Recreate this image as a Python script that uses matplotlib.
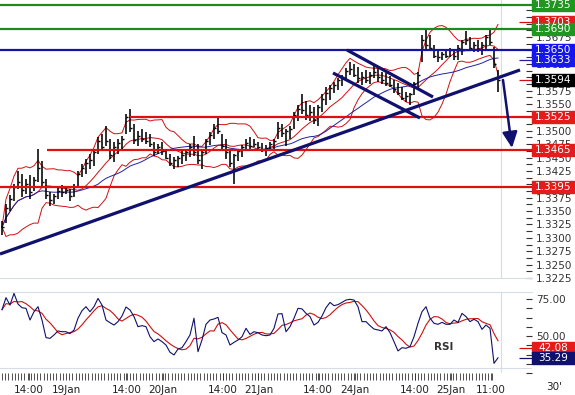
import numpy as np
import pandas as pd
import matplotlib
matplotlib.use("Agg")
import matplotlib.pyplot as plt
from matplotlib.patches import Rectangle
from matplotlib.ticker import FuncFormatter

# hourly bars, EUR/USD 30' chart
high = [1.3332, 1.3364, 1.3380, 1.3401, 1.3425, 1.3419, 1.3410, 1.3418, 1.3414, 1.3466,
        1.3444, 1.3410, 1.3386, 1.3382, 1.3395, 1.3399, 1.3395, 1.3392, 1.3401, 1.3425,
        1.3438, 1.3447, 1.3456, 1.3466, 1.3488, 1.3494, 1.3508, 1.3484, 1.3479, 1.3484,
        1.3490, 1.3531, 1.3540, 1.3512, 1.3499, 1.3503, 1.3497, 1.3494, 1.3479, 1.3475,
        1.3479, 1.3466, 1.3456, 1.3451, 1.3453, 1.3462, 1.3466, 1.3475, 1.3490, 1.3475,
        1.3466, 1.3484, 1.3497, 1.3512, 1.3525, 1.3494, 1.3484, 1.3466, 1.3456, 1.3466,
        1.3473, 1.3484, 1.3488, 1.3484, 1.3479, 1.3477, 1.3473, 1.3479, 1.3484, 1.3516,
        1.3512, 1.3503, 1.3508, 1.3536, 1.3549, 1.3568, 1.3555, 1.3549, 1.3544, 1.3549,
        1.3568, 1.3581, 1.3586, 1.3592, 1.3599, 1.3605, 1.3618, 1.3629, 1.3625, 1.3620,
        1.3610, 1.3614, 1.3610, 1.3625, 1.3618, 1.3610, 1.3608, 1.3603, 1.3595, 1.3590,
        1.3581, 1.3573, 1.3571, 1.3592, 1.3610, 1.3679, 1.3688, 1.3679, 1.3660, 1.3651,
        1.3647, 1.3651, 1.3655, 1.3651, 1.3660, 1.3669, 1.3686, 1.3675, 1.3666, 1.3669,
        1.3666, 1.3679, 1.3690, 1.3657, 1.3614]
low = [1.3305, 1.3327, 1.3351, 1.3369, 1.3392, 1.3377, 1.3382, 1.3373, 1.3388, 1.3405,
       1.3397, 1.3373, 1.3360, 1.3364, 1.3373, 1.3377, 1.3381, 1.3369, 1.3377, 1.3397,
       1.3414, 1.3419, 1.3429, 1.3434, 1.3456, 1.3462, 1.3471, 1.3447, 1.3442, 1.3456,
       1.3466, 1.3494, 1.3497, 1.3475, 1.3471, 1.3479, 1.3475, 1.3469, 1.3453, 1.3456,
       1.3455, 1.3447, 1.3434, 1.3429, 1.3432, 1.3438, 1.3444, 1.3451, 1.3453, 1.3438,
       1.3429, 1.3456, 1.3473, 1.3484, 1.3494, 1.3466, 1.3447, 1.3432, 1.3401, 1.3444,
       1.3451, 1.3462, 1.3466, 1.3469, 1.3466, 1.3460, 1.3453, 1.3462, 1.3466, 1.3484,
       1.3488, 1.3471, 1.3484, 1.3503, 1.3518, 1.3531, 1.3521, 1.3518, 1.3512, 1.3508,
       1.3536, 1.3549, 1.3558, 1.3571, 1.3577, 1.3584, 1.3595, 1.3605, 1.3601, 1.3590,
       1.3586, 1.3590, 1.3588, 1.3599, 1.3592, 1.3588, 1.3584, 1.3581, 1.3571, 1.3566,
       1.3558, 1.3553, 1.3549, 1.3566, 1.3577, 1.3629, 1.3651, 1.3651, 1.3636, 1.3629,
       1.3632, 1.3636, 1.3638, 1.3632, 1.3632, 1.3642, 1.3660, 1.3651, 1.3647, 1.3647,
       1.3642, 1.3651, 1.3660, 1.3618, 1.3573]
close = [1.3320, 1.3355, 1.3372, 1.3395, 1.3405, 1.3390, 1.3400, 1.3385, 1.3408, 1.3430,
         1.3405, 1.3380, 1.3370, 1.3378, 1.3388, 1.3385, 1.3390, 1.3378, 1.3395, 1.3420,
         1.3430, 1.3440, 1.3445, 1.3460, 1.3480, 1.3470, 1.3480, 1.3455, 1.3470, 1.3478,
         1.3485, 1.3525, 1.3505, 1.3482, 1.3490, 1.3485, 1.3480, 1.3475, 1.3460, 1.3470,
         1.3462, 1.3450, 1.3440, 1.3445, 1.3450, 1.3455, 1.3460, 1.3470, 1.3460, 1.3445,
         1.3460, 1.3480, 1.3492, 1.3505, 1.3500, 1.3472, 1.3460, 1.3440, 1.3455, 1.3462,
         1.3470, 1.3478, 1.3472, 1.3475, 1.3470, 1.3465, 1.3468, 1.3475, 1.3480, 1.3505,
         1.3495, 1.3500, 1.3503, 1.3530, 1.3540, 1.3538, 1.3530, 1.3535, 1.3520, 1.3545,
         1.3560, 1.3570, 1.3580, 1.3585, 1.3595, 1.3600, 1.3612, 1.3615, 1.3605, 1.3598,
         1.3600, 1.3595, 1.3605, 1.3610, 1.3600, 1.3595, 1.3590, 1.3585, 1.3578, 1.3570,
         1.3562, 1.3565, 1.3568, 1.3588, 1.3605, 1.3670, 1.3660, 1.3655, 1.3640, 1.3638,
         1.3643, 1.3640, 1.3650, 1.3640, 1.3655, 1.3665, 1.3670, 1.3655, 1.3660, 1.3652,
         1.3660, 1.3675, 1.3665, 1.3625, 1.3594]
rsi = [67.8, 75.9, 70.9, 78.8, 71.6, 69.1, 68.7, 60.8, 66.4, 69.8,
       60.8, 48.9, 48.4, 50.7, 53.4, 52.9, 52.9, 51.6, 54.0, 62.0,
       67.1, 69.8, 66.4, 69.8, 75.4, 70.9, 60.8, 59.0, 57.4, 59.7,
       63.5, 69.6, 67.6, 63.1, 56.3, 57.0, 56.3, 49.5, 46.2, 48.0,
       46.2, 43.9, 39.0, 37.2, 41.2, 42.1, 46.2, 50.7, 62.0, 39.4,
       47.3, 57.9, 60.8, 61.5, 62.6, 52.3, 50.7, 43.9, 45.7, 47.3,
       49.5, 55.2, 51.1, 52.9, 52.2, 50.7, 50.2, 50.7, 55.2, 64.9,
       65.1, 52.9, 56.3, 62.0, 68.7, 68.3, 65.3, 63.1, 57.4, 59.2,
       63.5, 69.1, 72.7, 70.5, 71.2, 72.7, 74.3, 74.8, 74.3, 69.8,
       59.7, 59.7, 57.0, 54.7, 54.1, 53.4, 56.3, 52.3, 46.2, 39.9,
       42.1, 41.7, 42.8, 49.5, 58.6, 66.4, 69.8, 62.0, 58.6, 57.9,
       59.2, 57.9, 57.9, 60.8, 59.2, 65.3, 63.1, 59.7, 61.3, 59.7,
       54.5, 57.4, 55.2, 31.5, 35.29]

time_labels = ["14:00", "19Jan", "14:00", "20Jan", "14:00", "21Jan",
               "14:00", "24Jan", "14:00", "25Jan", "11:00"]
time_pos = [6.75, 16.0, 31.1, 40.25, 55.25, 64.1, 79.0, 88.25, 103.25, 112.25, 122.15]

# analyst levels: (price, colour, first bar)
levels = [(1.3735, "#1a8c1a", -0.5), (1.3690, "#1a8c1a", -0.5), (1.3650, "#14149e", -0.5),
          (1.3525, "#e01010", 32), (1.3465, "#e01010", 11.25), (1.3395, "#e01010", -0.5)]
# trend lines as (bar, price) pairs
trend_lines = [((-0.5, 1.32698), (129.5, 1.36136)),
               ((86.25, 1.36509), (107.75, 1.35631)),
               ((82.75, 1.36080), (104.5, 1.35239))]
arrow_from = (125.25, 1.35949)
arrow_to = (127.5, 1.34679)

price_tags = [("1.3735", "#1f961f"), ("1.3703", "#e31b1b"), ("1.3690", "#1f961f"),
              ("1.3633", "#1818e8"), ("1.3650", "#1414f0"), ("1.3594", "black"),
              ("1.3525", "#e31b1b"), ("1.3465", "#e31b1b"), ("1.3395", "#e31b1b")]
rsi_tags = [("42.08", "#e31b1b"), ("35.29", "#10106e")]
# axis labels that sit fully under a tag in the reference
hidden_labels = ["1.3725", "1.3700", "1.3650", "1.3600", "1.3525", "1.3400"]

NAVY = "#10106e"
RED = "#d01010"
GRID = "#d5dde6"

s = pd.Series(close)
mid = s.rolling(10, min_periods=1).mean()
sd = s.rolling(10, min_periods=1).std(ddof=0)
ma_long = s.rolling(25, min_periods=1).mean()
rsi_ma = pd.Series(rsi).rolling(5, min_periods=1).mean()
x = np.arange(len(close))

W, H = 575, 395
fig = plt.figure(figsize=(W / 100, H / 100), dpi=100)
fig.patch.set_facecolor("white")


def rect(left, top, right, bottom):
    return [left / W, 1 - bottom / H, (right - left) / W, (bottom - top) / H]


ax = fig.add_axes(rect(0, 0, 532, 278))
ax2 = fig.add_axes(rect(0, 292, 532, 373), sharex=ax)

# price panel
ax.vlines(x, low, high, color="black", lw=1.15, zorder=3)
ax.hlines(close, x, x + 0.5, color="black", lw=1.0, zorder=3)
ax.plot(x, mid + 2 * sd, color=RED, lw=0.7, zorder=2)
ax.plot(x, mid - 2 * sd, color=RED, lw=0.7, zorder=2)
ax.plot(x, mid, color=RED, lw=0.7, zorder=2)
ax.plot(x, ma_long, color="#2020a8", lw=0.7, zorder=2)

for price, col, start in levels:
    ax.hlines(price, start, 132.5, color=col, lw=1.6, zorder=4)
for (x0, y0), (x1, y1) in trend_lines:
    ax.plot([x0, x1], [y0, y1], color=NAVY, lw=2.3, zorder=5, solid_capstyle="butt")
ax.annotate("", xy=arrow_to, xytext=arrow_from, zorder=6,
            arrowprops=dict(arrowstyle="-|>,head_length=0.95,head_width=0.45",
                            color=NAVY, lw=1.8, mutation_scale=10,
                            shrinkA=0, shrinkB=0))
ax.axvline(124.75, color=GRID, lw=0.8, zorder=0)
ax.hlines([1.3703, 1.3594], 129.25, 132.5, color=RED, lw=0.9, zorder=4)
ax.hlines(1.3633, 129.25, 132.5, color="#2020a8", lw=0.9, zorder=4)


def price_fmt(v, pos):
    txt = "%.4f" % v
    return "" if txt in hidden_labels else txt


ax.set_xlim(-0.5, 132.5)
ax.set_ylim(1.3225, 1.37443)
ax.yaxis.tick_right()
ax.set_yticks(np.round(np.arange(1.3225, 1.37251, 0.0025), 4))
ax.set_yticks(np.round(np.arange(1.32375, 1.3735, 0.0025), 5), minor=True)
ax.yaxis.set_major_formatter(FuncFormatter(price_fmt))
ax.tick_params(axis="y", which="both", direction="in", length=4, width=0.8,
               pad=3, labelsize=7.5, colors="#333333")
ax.tick_params(axis="x", which="both", bottom=False, labelbottom=False)
for side in ["top", "left", "right"]:
    ax.spines[side].set_visible(False)
ax.spines["bottom"].set_color(GRID)

# RSI panel
ax2.plot(x, rsi, color=NAVY, lw=0.8, zorder=3)
ax2.plot(x, rsi_ma, color="#cc1010", lw=0.8, zorder=2)
ax2.axvline(124.75, color=GRID, lw=0.8, zorder=0)
ax2.axhline(28.38, color=GRID, lw=0.8, zorder=0)
ax2.hlines(42.08, 129.25, 132.5, color=RED, lw=0.9)
ax2.hlines(35.29, 129.25, 132.5, color=NAVY, lw=0.9)
ax2.text(110.5, 42.9, "RSI", fontsize=7.5, fontweight="bold", color="#333333",
         ha="center", va="center")
ax2.set_ylim(25, 79.73)
ax2.yaxis.tick_right()
ax2.set_yticks([50, 75])
ax2.set_yticks([25, 31.25, 37.5, 43.75, 56.25, 62.5, 68.75], minor=True)
ax2.yaxis.set_major_formatter(FuncFormatter(lambda v, p: "%.2f" % v))
ax2.tick_params(axis="y", which="both", direction="in", length=4, width=0.8,
                pad=3, labelsize=7.5, colors="#333333")
ax2.set_xticks(time_pos, time_labels)
ax2.set_xticks(np.arange(0, 123, 0.8), minor=True)
ax2.tick_params(axis="x", which="both", direction="out", length=5, width=0.6,
                color="#333333", labelsize=7.5, labelcolor="#222222", pad=3.5)
for side in ["bottom", "left", "right"]:
    ax2.spines[side].set_visible(False)
ax2.spines["top"].set_color(GRID)

fig.text(554 / W, 1 - 387 / H, "30'", ha="center", va="center",
         fontsize=7.5, color="#222222")


def tag(axis, label, bg):
    yd = axis.transData.transform((0, float(label)))[1] / H
    h = 12 / H
    fig.patches.append(Rectangle((532 / W, yd - h / 2), 43 / W, h,
                                 transform=fig.transFigure, color=bg, zorder=5))
    fig.text(553.5 / W, yd, label, color="white", ha="center",
             va="center", fontsize=7.5, zorder=6)


for label, bg in price_tags:
    tag(ax, label, bg)
for label, bg in rsi_tags:
    tag(ax2, label, bg)

fig.savefig("out.png", dpi=100)
